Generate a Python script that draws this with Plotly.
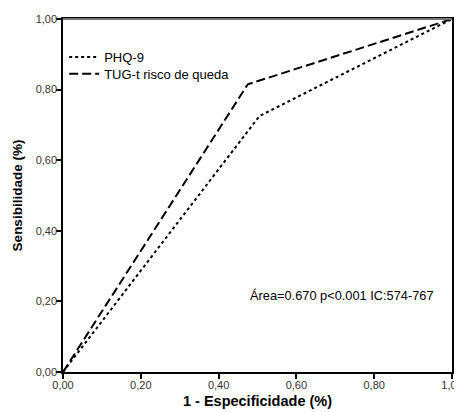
import plotly.graph_objects as go

phq_x = [0.0, 0.505, 1.0]
phq_y = [0.0, 0.725, 1.0]
tug_x = [0.0, 0.475, 1.0]
tug_y = [0.0, 0.815, 1.0]
tick_vals = [0.0, 0.2, 0.4, 0.6, 0.8, 1.0]
annot_text = "Área=0.670 p<0.001 IC:574-767"

FONT = "Liberation Sans, Arial"

fig = go.Figure()
fig.add_trace(go.Scatter(x=phq_x, y=phq_y, mode="lines", name="PHQ-9", legend="legend",
                         showlegend=True,
                         line=dict(color="black", width=2, dash="dot")))
fig.add_trace(go.Scatter(x=tug_x, y=tug_y, mode="lines", name="TUG-t risco de queda",
                         legend="legend2", showlegend=True,
                         line=dict(color="black", width=2, dash="9px,4px")))

axis_common = dict(range=[0, 1], tickvals=tick_vals, tickformat=".2f", automargin=False,
                   showgrid=False, zeroline=False, showline=True, linecolor="black",
                   linewidth=1.5, mirror=True, ticks="outside", ticklen=5,
                   tickcolor="black", tickwidth=1.5, ticklabelstandoff=-3,
                   ticklabeloverflow="allow",
                   tickfont=dict(family=FONT, size=11, color="#333"))

fig.update_xaxes(**axis_common,
                 title=dict(text="<b>1 - Especificidade (%)</b>", standoff=6,
                            font=dict(family=FONT, size=14.5, color="black")))
fig.update_yaxes(**axis_common,
                 title=dict(text="<b>Sensibilidade (%)</b>", standoff=10,
                            font=dict(family=FONT, size=13.5, color="black")))

fig.add_shape(type="line", xref="paper", yref="paper", x0=0, x1=1, y0=1, y1=1,
              line=dict(color="#777", width=2))

fig.add_annotation(x=0.717, y=0.218, xref="paper", yref="paper", text=annot_text,
                   xanchor="center", yanchor="middle",
                   showarrow=False, font=dict(family=FONT, size=12.8, color="black"))

leg_common = dict(x=0.003, xanchor="left", yanchor="top", bgcolor="rgba(0,0,0,0)",
                  font=dict(family=FONT, size=13, color="black"), itemwidth=30)

# the page has an 8px body margin, so the plot area is placed to compensate
fig.update_layout(width=462, height=412, margin=dict(l=55, r=18, t=11, b=48),
                  showlegend=True,
                  plot_bgcolor="white", paper_bgcolor="white", separators=",.",
                  font=dict(family=FONT, color="black"),
                  legend=dict(y=0.935, **leg_common),
                  legend2=dict(y=0.887, **leg_common))

fig.write_html("out.html")
